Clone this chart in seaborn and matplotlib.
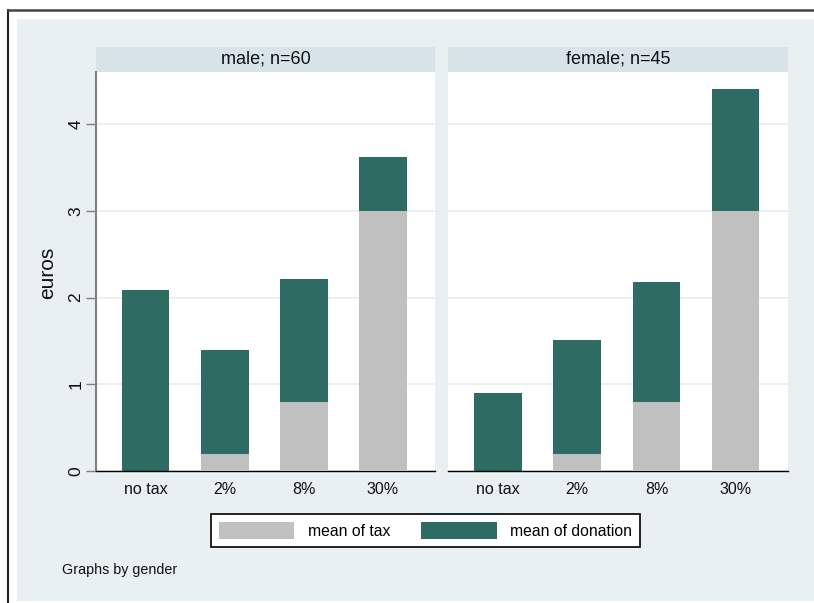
import matplotlib
matplotlib.use("Agg")
import matplotlib.pyplot as plt
from matplotlib.patches import Rectangle, Patch
from matplotlib.lines import Line2D
import seaborn as sns
import pandas as pd

# Mean tax and mean donation (euros) by tax treatment and gender
treatments = ["no tax", "2%", "8%", "30%"]
panels = ["male; n=60", "female; n=45"]
tax_male = [0.0, 0.2, 0.8, 3.0]
donation_male = [2.09, 1.19, 1.41, 0.62]
tax_female = [0.0, 0.2, 0.8, 3.0]
donation_female = [0.90, 1.31, 1.38, 1.40]
yticks = [0, 1, 2, 3, 4]

TEAL = "#2E6B63"
GREY = "#C0C0C0"
BG = "#E8F0F2"
STRIP = "#D8E4EA"
GRID = "#E4EDEF"

plt.rcParams["font.family"] = ["Liberation Sans", "DejaVu Sans"]

W, H = 814, 603
fig = plt.figure(figsize=(W / 100, H / 100), dpi=100)
fig.patch.set_facecolor("white")

# outer graph region and frame
fig.patches.append(Rectangle((17 / W, 1 - 601 / H), 1 - 17 / W, (601 - 19) / H,
                             transform=fig.transFigure, facecolor=BG,
                             edgecolor="none", zorder=-10))
fig.lines.append(Line2D([8 / W, 8 / W], [0, 1 - 10 / H], transform=fig.transFigure,
                        color="#222222", lw=1.5, zorder=-5))
fig.lines.append(Line2D([8 / W, 1], [1 - 10 / H, 1 - 10 / H], transform=fig.transFigure,
                        color="#444444", lw=1.8, zorder=-5))

bottom = 1 - 471 / H
height = (471 - 72) / H
ax_specs = [(96 / W, (435 - 96) / W), (448 / W, (788 - 448) / W)]

data = [(tax_male, donation_male), (tax_female, donation_female)]

for i, ((left, width), (tax, don), title) in enumerate(zip(ax_specs, data, panels)):
    ax = fig.add_axes([left, bottom, width, height], zorder=1)
    ax.set_facecolor("white")
    df = pd.DataFrame({"treatment": treatments, "tax": tax,
                       "total": [t + d for t, d in zip(tax, don)]})
    # stacked bars: full height in teal, tax share overlaid in grey
    sns.barplot(data=df, x="treatment", y="total", order=treatments, color=TEAL,
                saturation=1, width=0.6, errorbar=None, linewidth=0, ax=ax, zorder=2)
    sns.barplot(data=df, x="treatment", y="tax", order=treatments, color=GREY,
                saturation=1, width=0.6, errorbar=None, linewidth=0, ax=ax, zorder=3)
    ax.set_xlim(-0.63, 3.66)
    ax.set_ylim(0, 4.6)
    ax.set_yticks(yticks)
    ax.yaxis.grid(True, color=GRID, lw=1.2, zorder=0)
    ax.set_axisbelow(True)
    ax.set_xlabel("")
    ax.set_ylabel("")
    for s in ["top", "right"]:
        ax.spines[s].set_visible(False)
    ax.spines["bottom"].set_color("black")
    ax.spines["bottom"].set_linewidth(1.0)
    ax.tick_params(axis="x", length=0, pad=8, labelsize=11.5, colors="#111111")
    if i == 0:
        ax.spines["left"].set_color("#808080")
        ax.spines["left"].set_linewidth(1.5)
        ax.tick_params(axis="y", length=7, width=1, color="#808080", pad=2,
                       labelsize=12.5, labelcolor="#111111")
        for lab in ax.get_yticklabels():
            lab.set_rotation(90)
            lab.set_va("center")
    else:
        ax.spines["left"].set_visible(False)
        ax.tick_params(axis="y", length=0, labelleft=False)
    # panel title strip
    sh = 25 / (471 - 72)
    ax.add_patch(Rectangle((0, 1), 1, sh, transform=ax.transAxes, facecolor=STRIP,
                           edgecolor="none", clip_on=False))
    ax.text(0.5, 1 + sh / 2, title, transform=ax.transAxes, ha="center", va="center",
            fontsize=13, color="#111111")

fig.text(53.5 / W, 1 - 272.5 / H, "euros", rotation=90, rotation_mode="anchor",
         ha="center", va="baseline", fontsize=15, color="#111111")
fig.text(62 / W, 1 - 570 / H, "Graphs by gender", ha="left", va="center",
         fontsize=10.3, color="#111111")

handles = [Patch(facecolor=GREY, edgecolor="none", label="mean of tax"),
           Patch(facecolor=TEAL, edgecolor="none", label="mean of donation")]
leg = fig.legend(handles=handles, loc="center", bbox_to_anchor=(425.5 / W, 1 - 530.5 / H),
                 ncol=2, fontsize=11.3, frameon=True, fancybox=False, shadow=False,
                 framealpha=1, handlelength=4.8, handleheight=1.25, handletextpad=0.85,
                 columnspacing=2.0, borderpad=0.5, borderaxespad=0)
leg.get_frame().set_edgecolor("black")
leg.get_frame().set_linewidth(1.2)
leg.get_frame().set_facecolor("white")

fig.savefig("out.png", dpi=100)
